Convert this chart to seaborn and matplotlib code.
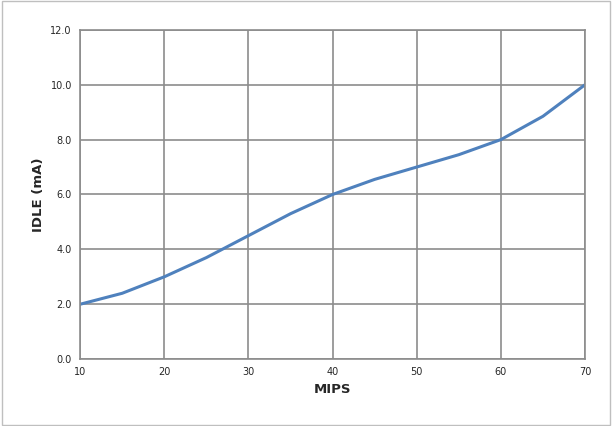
import matplotlib
matplotlib.use("Agg")
import matplotlib.pyplot as plt
import seaborn as sns
import pandas as pd

mips = [10, 15, 20, 25, 30, 35, 40, 45, 50, 55, 60, 65, 70]
idle = [2.0, 2.4, 3.0, 3.7, 4.5, 5.3, 6.0, 6.55, 7.0, 7.45, 8.0, 8.85, 10.0]
xticks = [10, 20, 30, 40, 50, 60, 70]
yticks = [0, 2, 4, 6, 8, 10, 12]

sns.set_style("white")
plt.rcParams['font.family'] = ['DejaVu Sans']
fig = plt.figure(figsize=(6.12, 4.26), dpi=100)
ax = fig.add_axes([0.131, 0.157, 0.825, 0.773])
df = pd.DataFrame({"MIPS": mips, "IDLE": idle})
sns.lineplot(data=df, x="MIPS", y="IDLE", ax=ax, color="#4f81bd", linewidth=2.2)
ax.set_xlim(10, 70)
ax.set_ylim(0, 12)
ax.set_xticks(xticks)
ax.set_yticks(yticks)
ax.set_xticklabels([str(t) for t in xticks], fontsize=7)
ax.set_yticklabels([f"{t:.1f}" for t in yticks], fontsize=7)
ax.grid(True, color="#8c8c8c", linewidth=1.2)
for s in ax.spines.values():
    s.set_color("#8c8c8c")
    s.set_linewidth(1.2)
ax.tick_params(length=0, pad=6)
ax.set_xlabel("MIPS", fontsize=9.5, fontweight="bold")
ax.set_ylabel("IDLE (mA)", fontsize=9.5, fontweight="bold")
fig.patches.append(plt.Rectangle((0.003, 0.003), 0.994, 0.994, transform=fig.transFigure,
                                 fill=False, edgecolor="#bfbfbf", linewidth=1))
fig.savefig("out.png", dpi=100)
